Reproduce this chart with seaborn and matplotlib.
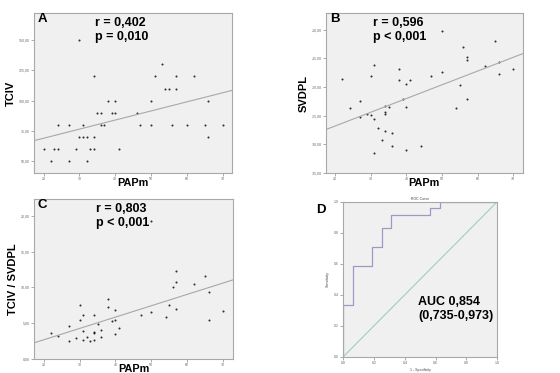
import matplotlib
matplotlib.use("Agg")
import matplotlib.pyplot as plt
import seaborn as sns

# Panel A : PAPm vs TCIV
papm_a = [20, 22, 23, 24, 24, 27, 27, 29, 30, 30, 31, 31, 32, 32, 33, 34, 34, 34,
          35, 36, 36, 37, 38, 39, 40, 40, 41, 46, 47, 50, 50, 51, 53, 54, 55, 56,
          57, 57, 60, 62, 65, 66, 66, 70]
tciv = [60, 50, 60, 60, 80, 80, 50, 60, 70, 150, 70, 80, 70, 50, 60, 60, 70, 120,
        90, 90, 80, 80, 100, 90, 90, 100, 60, 90, 80, 100, 80, 120, 130, 110, 110, 80,
        120, 110, 80, 120, 80, 100, 70, 80]

# Panel B : PAPm vs SVDPL
papm_b = [22, 24, 27, 27, 29, 30, 30, 31, 31, 31, 32, 33, 34, 34, 34, 34, 35, 36,
          36, 38, 38, 39, 40, 40, 40, 41, 44, 47, 50, 50, 54, 55, 56, 57, 57, 57,
          62, 65, 66, 66, 70]
svdpl = [-18.6, -23.7, -22.5, -25.3, -24.7, -18.0, -24.8, -16.2, -25.5, -31.5, -27.2,
         -29.2, -23.3, -24.4, -24.7, -27.7, -23.5, -28.0, -30.2, -16.9, -18.8, -22.1,
         -19.5, -23.5, -30.9, -18.8, -30.2, -18.0, -10.2, -17.3, -23.7, -19.6, -13.0,
         -14.8, -15.3, -22.1, -16.4, -11.9, -15.7, -17.7, -16.9]

# Panel C : PAPm vs TCIV / SVDPL
papm_c = [22, 24, 27, 27, 29, 30, 30, 31, 31, 31, 32, 33, 34, 34, 34, 34, 35, 36,
          36, 38, 38, 39, 40, 40, 40, 41, 47, 50, 50, 54, 55, 56, 57, 57, 57, 62,
          65, 66, 66, 70]
ratio = [3.7, 3.2, 4.6, 2.5, 3.0, 7.6, 5.4, 6.2, 3.9, 2.6, 3.1, 2.5, 6.2, 3.8, 3.6,
         2.6, 4.9, 4.0, 3.1, 8.4, 7.2, 5.3, 6.9, 5.4, 3.5, 4.4, 6.2, 19.3, 6.5, 5.9,
         7.5, 10.0, 12.3, 10.7, 7.0, 10.5, 11.6, 9.3, 5.5, 6.7]

# Panel D : ROC curve
fpr = [0, 0, 0.0625, 0.0625, 0.1875, 0.1875, 0.25, 0.25, 0.3125, 0.3125,
       0.5625, 0.5625, 0.625, 0.625, 1]
tpr = [0, 0.333, 0.333, 0.583, 0.583, 0.708, 0.708, 0.833, 0.833, 0.917,
       0.917, 0.958, 0.958, 1, 1]
ref = [0, 1]

papm_ticks = [20, 30, 40, 50, 60, 70]
tciv_ticks = [50, 75, 100, 125, 150]
svdpl_ticks = [-35, -30, -25, -20, -15, -10]
ratio_ticks = [0, 5, 10, 15, 20]
roc_ticks = [0.0, 0.2, 0.4, 0.6, 0.8, 1.0]

plt.rcParams['font.family'] = ['Liberation Sans', 'DejaVu Sans']

fig = plt.figure(figsize=(5.6, 3.73), dpi=100)
ax_a = fig.add_axes([0.0607, 0.536, 0.354, 0.429])
ax_b = fig.add_axes([0.5816, 0.536, 0.352, 0.429])
ax_c = fig.add_axes([0.0607, 0.0375, 0.355, 0.428])
ax_d = fig.add_axes([0.613, 0.0437, 0.275, 0.4155])

def fmt(v):
    return f"{v:.2f}".replace(".", ",")

def style(ax):
    ax.set_facecolor("#f0f0f0")
    for s in ax.spines.values():
        s.set_color("#a8a8a8")
        s.set_linewidth(0.8)
    ax.tick_params(length=2, width=0.5, color="#888888", labelsize=2.5,
                   labelcolor="#666666", pad=1)

panels = [
    (ax_a, papm_a, tciv, tciv_ticks, (40, 172.5), "TCIV", "A", "r = 0,402\np = 0,010", 0.31),
    (ax_b, papm_b, svdpl, svdpl_ticks, (-35, -7.1), "SVDPL", "B", "r = 0,596\np < 0,001", 0.24),
    (ax_c, papm_c, ratio, ratio_ticks, (0, 22.3), "TCIV / SVDPL", "C", "r = 0,803\np < 0,001", 0.31),
]

for ax, x, y, yt, ylim, ylab, letter, txt, tx in panels:
    style(ax)
    ax.set_xlim(17.3, 72.7)
    ax.set_ylim(*ylim)
    sns.regplot(x=x, y=y, ax=ax, ci=None, truncate=False,
                scatter_kws=dict(s=2.2, color="black", linewidths=0),
                line_kws=dict(color="#a8a8a8", lw=0.8))
    ax.set_xticks(papm_ticks)
    ax.set_xticklabels([str(v) for v in papm_ticks])
    ax.set_yticks(yt)
    ax.set_yticklabels([fmt(v) for v in yt])
    ax.set_xlabel("PAPm", fontsize=7.8, fontweight="bold", labelpad=-2.5)
    ax.set_ylabel(ylab, fontsize=8, fontweight="bold", labelpad=2)
    ax.text(0.02, 0.965, letter, transform=ax.transAxes, fontsize=9.5,
            fontweight="heavy", va="center", ha="left")
    ax.text(tx, 0.975, txt, transform=ax.transAxes, fontsize=9,
            fontweight="bold", va="top", ha="left", linespacing=1.2)

# ROC panel
style(ax_d)
sns.lineplot(x=fpr, y=tpr, ax=ax_d, sort=False, estimator=None,
             color="#9a9ac8", lw=0.9)
sns.lineplot(x=ref, y=ref, ax=ax_d, sort=False, estimator=None,
             color="#9fd0b8", lw=0.8)
ax_d.set_xlim(0, 1)
ax_d.set_ylim(0, 1)
ax_d.set_xticks(roc_ticks)
ax_d.set_xticklabels([f"{v:.1f}" for v in roc_ticks])
ax_d.set_yticks(roc_ticks)
ax_d.set_yticklabels([f"{v:.1f}" for v in roc_ticks])
ax_d.set_xlabel("1 - Specificity", fontsize=2.5, labelpad=2, color="#444444")
ax_d.set_ylabel("Sensitivity", fontsize=2.5, labelpad=3, color="#444444")
ax_d.set_title("ROC Curve", fontsize=2.5, pad=1.5, color="#444444")
ax_d.text(0.487, 0.31, "AUC 0,854\n(0,735-0,973)", transform=ax_d.transAxes,
          fontsize=9, fontweight="bold", va="center", ha="left", linespacing=1.25)
fig.text(316.5 / 560, 1 - 210 / 373, "D", fontsize=9.5, fontweight="heavy",
         va="center", ha="left")

fig.savefig("out.png", dpi=100)
